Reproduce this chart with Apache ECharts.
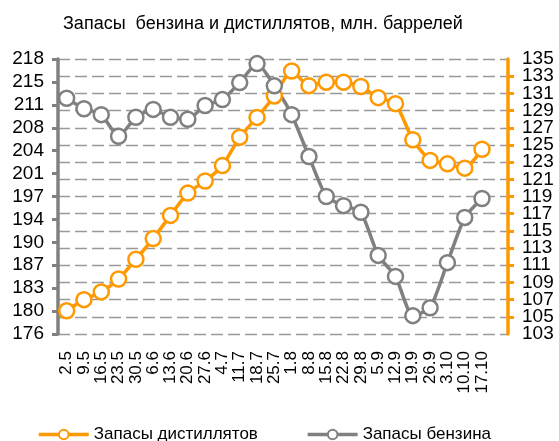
<!DOCTYPE html>
<html>
<head>
<meta charset="utf-8">
<script src="https://cdn.jsdelivr.net/npm/echarts@6/dist/echarts.min.js"></script>
<style>
html,body{margin:0;padding:0;background:#fff;}
#chart{width:559px;height:441px;}
</style>
</head>
<body>
<div id="chart"></div>
<script>
// даты (недели), последняя категория пустая
var weeks = ["2.5","9.5","16.5","23.5","30.5","6.6","13.6","20.6","27.6","4.7","11.7","18.7","25.7",
	"1.8","8.8","15.8","22.8","29.8","5.9","12.9","19.9","26.9","3.10","10.10","17.10",""];
// запасы дистиллятов, млн. баррелей (правая ось)
var distillates = [105.7,107.0,107.9,109.4,111.7,114.1,116.8,119.4,120.8,122.6,125.9,128.2,130.7,
	133.6,131.9,132.3,132.3,131.8,130.5,129.8,125.6,123.2,122.8,122.3,124.5,null];
// запасы бензина, млн. баррелей (левая ось)
var gasoline = [212.0,210.4,209.5,206.2,209.1,210.3,209.1,208.8,210.9,211.8,214.4,217.3,213.9,
	209.5,203.1,197.0,195.6,194.6,188.0,184.8,178.8,180.0,186.9,193.8,196.7,null];

var ORANGE = "#FF9900";
var GREY = "#808080";
var FONT = "Liberation Sans";
var rightLabel = {fontSize:19,color:"#000",margin:14};

var myChart = echarts.init(document.getElementById("chart"));
var option = {
	animation:false,
	textStyle:{fontFamily:FONT},
	title:{
		text:"Запасы  бензина и дистиллятов, млн. баррелей",
		left:58,
		top:10,
		textStyle:{fontFamily:FONT,fontSize:18,fontWeight:"normal",color:"#000"}
	},
	legend:{
		top:421,
		left:32,
		itemWidth:50,
		itemHeight:12,
		itemGap:48,
		textStyle:{fontFamily:FONT,fontSize:17,color:"#000"},
		data:[
			{name:"Запасы дистиллятов",lineStyle:{width:3.5}},
			{name:"Запасы бензина",lineStyle:{width:3.5}}
		]
	},
	grid:{left:58,right:51,top:59,bottom:107},
	xAxis:{
		type:"category",
		data:weeks,
		boundaryGap:true,
		axisLine:{show:false},
		axisTick:{show:false},
		axisLabel:{rotate:90,margin:17,fontSize:17,color:"#000",interval:0}
	},
	yAxis:[
		{
			type:"value",
			position:"left",
			min:176,
			max:218,
			interval:3.5,
			axisLine:{show:true,lineStyle:{color:GREY,width:3.5}},
			axisTick:{show:true,length:6,lineStyle:{color:GREY,width:3}},
			axisLabel:{fontSize:19,color:"#000",margin:14,showMinLabel:true,showMaxLabel:true,
				formatter:function(v){return Math.round(v);}},
			splitLine:{show:false}
		},
		{
			type:"value",
			position:"right",
			min:103,
			max:135,
			interval:2,
			axisLine:{show:true,lineStyle:{color:ORANGE,width:3.5}},
			axisTick:{show:true,length:6,lineStyle:{color:ORANGE,width:3}},
			axisLabel:Object.assign({showMinLabel:false,showMaxLabel:false},rightLabel),
			splitLine:{show:true,lineStyle:{color:"#999",width:1.3,type:[12,5]}}
		},
		{
			// только подписи 103 и 135 на правой оси
			type:"value",
			position:"right",
			min:103,
			max:135,
			interval:32,
			axisLine:{show:false},
			axisTick:{show:false},
			axisLabel:Object.assign({showMinLabel:true,showMaxLabel:true},rightLabel),
			splitLine:{show:false}
		}
	],
	series:[
		{
			name:"Запасы дистиллятов",
			type:"line",
			yAxisIndex:1,
			data:distillates,
			smooth:0.2,
			symbol:"circle",
			symbolSize:15,
			lineStyle:{color:ORANGE,width:3.5},
			itemStyle:{color:"#fff",borderColor:ORANGE,borderWidth:2.5}
		},
		{
			name:"Запасы бензина",
			type:"line",
			yAxisIndex:0,
			data:gasoline,
			smooth:0.2,
			symbol:"circle",
			symbolSize:15,
			lineStyle:{color:GREY,width:3.5},
			itemStyle:{color:"#fff",borderColor:GREY,borderWidth:2.5}
		}
	]
};
myChart.setOption(option);
</script>
</body>
</html>
